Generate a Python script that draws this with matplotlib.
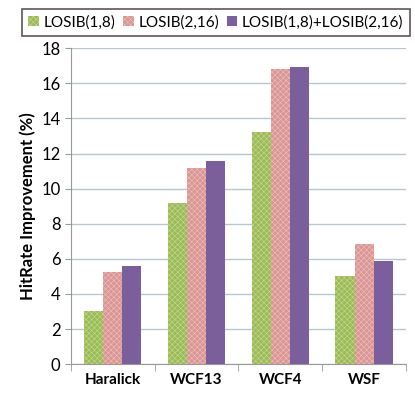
import numpy as np
import matplotlib
matplotlib.use('Agg')
import matplotlib.pyplot as plt

categories = ['Haralick', 'WCF13', 'WCF4', 'WSF']
series_names = ['LOSIB(1,8)', 'LOSIB(2,16)', 'LOSIB(1,8)+LOSIB(2,16)']
losib_1_8 = [3.05, 9.2, 13.2, 5.03]
losib_2_16 = [5.27, 11.18, 16.8, 6.87]
losib_both = [5.6, 11.6, 16.93, 5.87]
yticks = [0, 2, 4, 6, 8, 10, 12, 14, 16, 18]

plt.rcParams['font.family'] = ['Lato', 'DejaVu Sans']
plt.rcParams['hatch.linewidth'] = 0.4

fig = plt.figure(figsize=(4.15, 3.95), dpi=100)
ax = fig.add_axes([0.171, 0.078, 0.807, 0.80])

x = np.arange(len(categories))
w = 0.227
styles = [('#9bbb59', '#c3dc8e'), ('#d99694', '#efc0bd'), ('#7b5e9c', '#7b5e9c')]
bars = []
for i, (vals, (fc, hc)) in enumerate(zip([losib_1_8, losib_2_16, losib_both], styles)):
    hatch = 'xxxxxx' if i < 2 else None
    b = ax.bar(x + (i - 1) * w, vals, w, color=fc, edgecolor=hc, hatch=hatch,
               linewidth=0, label=series_names[i], zorder=3)
    bars.append(b)

ax.set_xlim(-0.5, 3.5)
ax.set_ylim(0, 18)
ax.set_yticks(yticks)
ax.yaxis.grid(True, color='#b4c8d2', linewidth=1.0, zorder=0)
ax.set_axisbelow(True)
ax.set_xticks(x)
ax.set_xticklabels(categories, fontweight='bold', fontsize=11)
ax.tick_params(axis='x', length=0, pad=6)
ax.set_xticks(np.arange(-0.5, 4.0, 1.0), minor=True)
ax.tick_params(axis='x', which='minor', length=5, color='#999999')
ax.tick_params(axis='y', length=4, color='#999999', labelsize=12)
for s in ['top', 'right']:
    ax.spines[s].set_visible(False)
ax.spines['left'].set_color('#999999')
ax.spines['bottom'].set_color('#999999')
ax.set_ylabel('HitRate Improvement (%)', fontweight='bold', fontsize=12)

leg = fig.legend(handles=bars, loc='upper center', bbox_to_anchor=(0.52, 0.985),
                 ncol=3, frameon=True, fancybox=False, edgecolor='#3a2a2a',
                 fontsize=11, handlelength=0.7, handleheight=0.7,
                 handletextpad=0.3, columnspacing=0.5, borderpad=0.4,
                 borderaxespad=0.2)
leg.get_frame().set_linewidth(1.2)

fig.savefig('out.png', dpi=100)
